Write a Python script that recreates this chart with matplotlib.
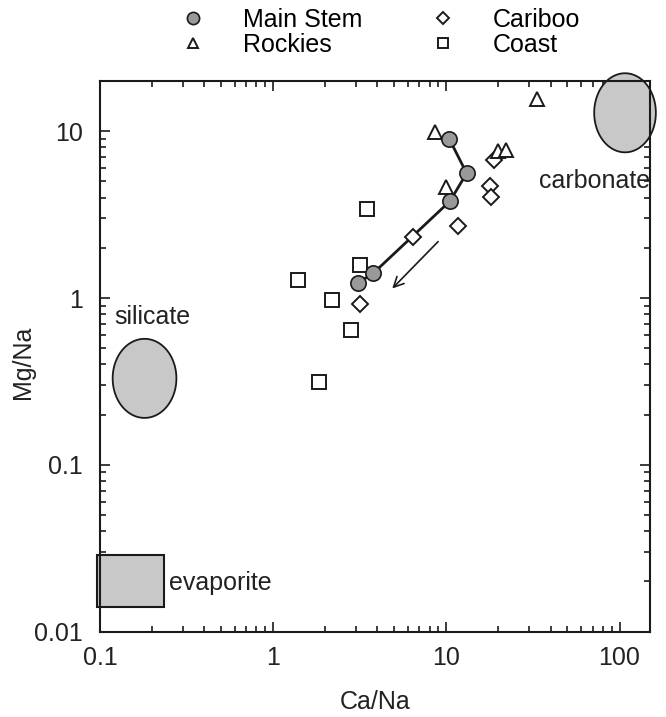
import matplotlib
matplotlib.use("Agg")
import matplotlib.pyplot as plt
from matplotlib.ticker import LogLocator, FuncFormatter, NullFormatter
from matplotlib.patches import Rectangle
import numpy as np

plt.rcParams['font.family'] = ['Liberation Sans', 'DejaVu Sans']

# data
main_ca = [10.4, 13.1, 10.5, 3.79, 3.08]
main_mg = [9.0, 5.6, 3.81, 1.41, 1.23]

rockies_ca = [33.6, 8.57, 9.96, 19.8, 22.1]
rockies_mg = [15.6, 9.86, 4.62, 7.66, 7.77]

cariboo_ca = [18.9, 17.9, 18.1, 11.7, 6.4, 3.16]
cariboo_mg = [6.68, 4.67, 4.03, 2.69, 2.32, 0.92]

coast_ca = [3.49, 3.16, 1.39, 2.18, 2.83, 1.83]
coast_mg = [3.43, 1.57, 1.29, 0.977, 0.64, 0.314]

# end members: centre (Ca/Na, Mg/Na) and half size in decades
silicate = (0.181, 0.33, 0.184, 0.237)
carbonate = (107.6, 12.9, 0.178, 0.237)
evaporite = (0.0957, 0.014, 0.235, 0.0288)  # x0, y0, x1, y1

arrow_start = (9.2, 2.24)
arrow_end = (4.75, 1.11)

FS = 18

fig = plt.figure(figsize=(6.66, 7.17), dpi=100)
ax = fig.add_axes([0.150, 0.119, 0.826, 0.768])
ax.set_xscale('log')
ax.set_yscale('log')
ax.set_xlim(0.1, 150)
ax.set_ylim(0.01, 20)


def log_ellipse(c):
	t = np.linspace(0, 2 * np.pi, 200)
	x = 10 ** (np.log10(c[0]) + c[2] * np.cos(t))
	y = 10 ** (np.log10(c[1]) + c[3] * np.sin(t))
	ax.fill(x, y, facecolor='#c8c8c8', edgecolor='#1a1a1a', lw=1.3, clip_on=False, zorder=2)


log_ellipse(silicate)
log_ellipse(carbonate)
ax.add_patch(Rectangle((evaporite[0], evaporite[1]), evaporite[2] - evaporite[0], evaporite[3] - evaporite[1],
	facecolor='#c8c8c8', edgecolor='#1a1a1a', lw=1.5, clip_on=False, zorder=2))

ax.text(0.121, 0.77, 'silicate', fontsize=FS, ha='left', va='center', color='#222222')
ax.text(0.252, 0.0196, 'evaporite', fontsize=FS, ha='left', va='center', color='#222222')
ax.text(34.5, 5.0, 'carbonate', fontsize=FS, ha='left', va='center', color='#222222', clip_on=False)

ax.plot(main_ca, main_mg, color='#1a1a1a', lw=2, zorder=3)
ax.plot(cariboo_ca, cariboo_mg, 'D', ms=8, mfc='white', mec='#1a1a1a', mew=1.4, ls='none', zorder=4, label='Cariboo')
ax.plot(coast_ca, coast_mg, 's', ms=9.5, mfc='white', mec='#1a1a1a', mew=1.4, ls='none', zorder=4, label='Coast')
ax.plot(rockies_ca, rockies_mg, '^', ms=9.5, mfc='white', mec='#1a1a1a', mew=1.4, ls='none', zorder=4, label='Rockies')
ax.plot(main_ca, main_mg, 'o', ms=11, mfc='#999999', mec='#1a1a1a', mew=1.2, ls='none', zorder=5, label='Main Stem')

ax.annotate('', xy=arrow_end, xytext=arrow_start,
	arrowprops=dict(arrowstyle='->', color='#1a1a1a', lw=1.2, mutation_scale=18))

ax.xaxis.set_major_locator(LogLocator(base=10, numticks=10))
ax.yaxis.set_major_locator(LogLocator(base=10, numticks=10))
ax.xaxis.set_minor_locator(LogLocator(base=10, subs=np.arange(2, 10), numticks=20))
ax.yaxis.set_minor_locator(LogLocator(base=10, subs=np.arange(2, 10), numticks=20))
fmt = FuncFormatter(lambda v, p: '%g' % v)
ax.xaxis.set_major_formatter(fmt)
ax.yaxis.set_major_formatter(fmt)
ax.xaxis.set_minor_formatter(NullFormatter())
ax.yaxis.set_minor_formatter(NullFormatter())

ax.tick_params(which='both', direction='in', top=True, right=True, colors='#1a1a1a', width=1.2)
ax.tick_params(which='major', length=7, labelsize=FS, labelcolor='#222222')
ax.tick_params(which='minor', length=4)
ax.tick_params(axis='x', which='major', pad=10)
ax.tick_params(axis='y', which='major', pad=12)
for s in ax.spines.values():
	s.set_linewidth(1.5)
	s.set_color('#1a1a1a')

ax.set_xlabel('Ca/Na', fontsize=FS, color='#222222', labelpad=15)
ax.set_ylabel('Mg/Na', fontsize=FS, color='#222222')
ax.yaxis.set_label_coords(-0.118, 0.49)

h, l = ax.get_legend_handles_labels()
order = [3, 2, 0, 1]
fig.legend([h[i] for i in order], [l[i] for i in order], ncol=2, frameon=False,
	loc='upper left', bbox_to_anchor=(0.234, 1.02), fontsize=FS, markerscale=0.8,
	handletextpad=1.4, columnspacing=2.6, labelspacing=0.02, handlelength=1.2)

plt.savefig('out.png', dpi=100)
